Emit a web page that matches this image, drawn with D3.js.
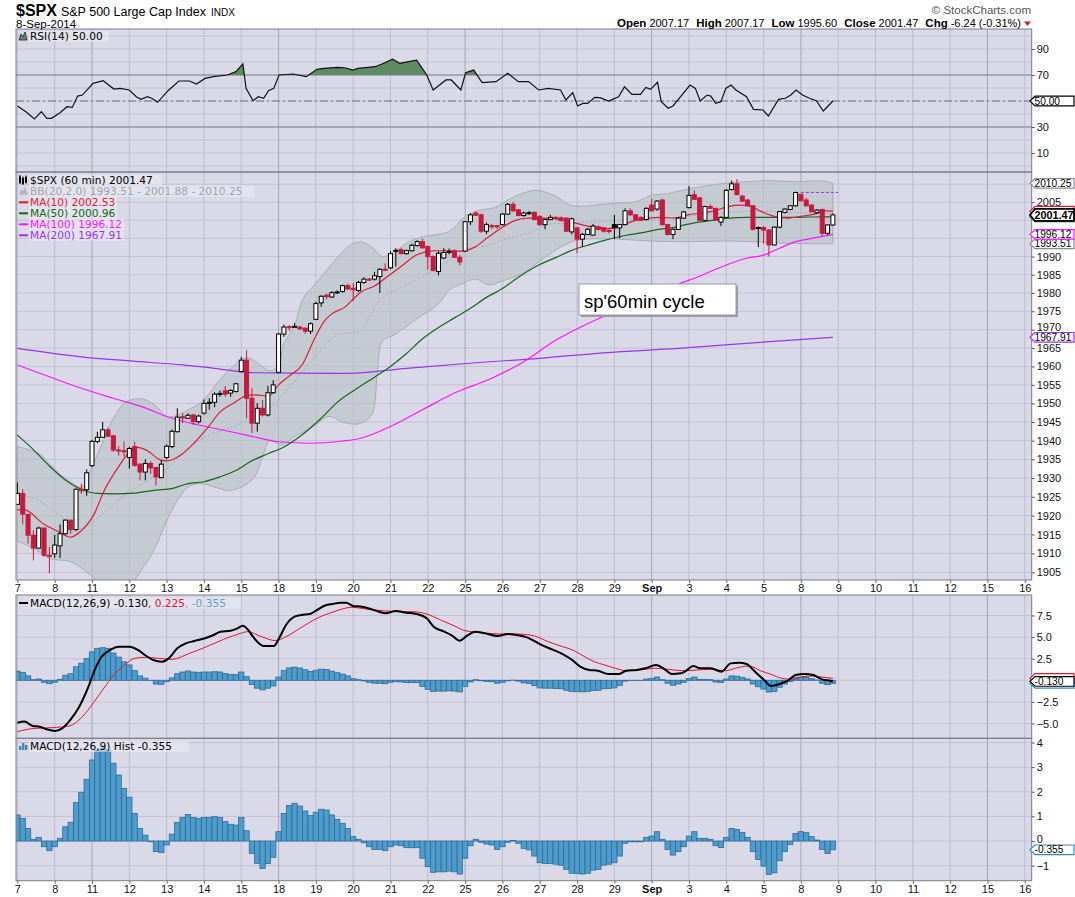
<!DOCTYPE html>
<html>
<head>
<meta charset="utf-8">
<script src="https://cdn.jsdelivr.net/npm/d3@7"></script>
<style>
  body { margin: 0; background: #fff; }
  svg text { font-family: "Liberation Sans", Arial, sans-serif; }
  .lg { font-family: "DejaVu Sans", Verdana, sans-serif; font-size: 10.6px; }
</style>
</head>
<body>
<svg id="chart" width="1075" height="897"></svg>
<script>
// day labels on the time axis, 7 hourly bars per trading day
const dayLabels = ["7","8","11","12","13","14","15","18","19","20","21","22","25","26","27","28","29","Sep","3","4","5","8","9","10","11","12","15","16"];
const weekStarts = [2, 7, 12, 17, 21, 26];
const barsPerDay = 7;

// hourly candles, 7 Aug - 8 Sep 2014
const opens = [1923.0,1925.9,1920.3,1914.8,1911.4,1916.7,1909.5,1909.9,1912.0,1915.2,1918.8,1916.3,1927.0,1926.9,
  1933.3,1939.8,1940.9,1942.9,1941.3,1937.5,1937.3,1935.5,1938.4,1933.7,1931.6,1933.9,1932.8,1930.1,
  1935.5,1938.4,1942.4,1946.4,1946.0,1946.9,1945.1,1947.4,1950.0,1950.3,1952.6,1953.4,1952.8,1953.2,
  1958.6,1961.7,1951.4,1944.7,1948.7,1946.9,1952.9,1958.4,1968.8,1970.8,1970.8,1970.7,1970.4,1969.6,
  1972.8,1977.3,1979.4,1978.9,1980.1,1980.4,1982.0,1981.3,1980.7,1982.9,1983.8,1983.8,1984.5,1986.5,
  1986.9,1991.6,1991.9,1990.8,1991.6,1993.0,1994.1,1992.8,1990.0,1985.9,1989.6,1991.3,1991.5,1989.8,
  1991.5,1999.6,2002.0,2001.5,1997.0,1998.5,1998.5,1998.8,2001.7,2004.4,2002.9,2001.3,2002.0,2002.2,
  2001.1,1998.8,2000.2,2000.8,2000.7,2000.6,1996.8,1997.9,1994.8,1996.1,1995.9,1998.2,1997.9,1997.2,
  1998.8,1997.9,1998.8,2002.6,2001.5,2000.8,2000.2,2004.2,2003.1,2005.6,1998.8,1996.1,1997.5,2000.6,
  2003.5,2007.1,2006.2,2000.0,2003.8,2003.3,1999.5,2000.8,2008.5,2010.1,2006.7,2005.6,2004.0,1997.9,
  1998.0,1997.3,1993.2,1998.1,2002.2,2003.0,2004.0,2007.2,2005.6,2004.2,2002.1,2003.0,1996.4,1998.7];
const highs = [1928.8,1927.1,1920.5,1916.1,1917.1,1916.9,1911.7,1914.9,1917.7,1919.0,1918.9,1927.2,1928.5,1932.3,
  1940.2,1942.4,1945.0,1943.5,1941.5,1938.5,1939.7,1938.4,1939.7,1933.9,1935.0,1934.5,1933.0,1934.8,
  1939.0,1943.0,1948.7,1947.4,1947.4,1947.2,1947.0,1951.1,1951.4,1953.0,1953.5,1954.7,1953.8,1955.6,
  1962.6,1964.4,1954.1,1950.1,1950.9,1954.7,1956.3,1969.1,1971.4,1971.2,1971.8,1971.0,1970.6,1972.0,
  1977.6,1979.4,1979.8,1980.5,1980.7,1982.3,1982.5,1982.7,1983.3,1984.3,1984.1,1985.8,1986.8,1988.1,
  1991.5,1992.3,1992.4,1991.9,1993.5,1994.5,1994.9,1993.0,1990.3,1991.4,1992.3,1992.2,1992.0,1990.4,
  1999.8,2002.0,2002.5,2001.8,1999.4,1999.0,1998.7,2002.0,2004.8,2005.1,2003.1,2002.4,2002.6,2002.4,
  2001.3,2000.4,2001.5,2001.1,2001.0,2000.8,2000.8,1998.1,1996.5,1997.9,1999.0,1998.6,1998.1,1997.5,
  2001.5,1999.0,2003.3,2003.3,2001.7,2001.1,2003.6,2006.0,2005.6,2006.0,1999.0,1997.8,2000.9,2002.6,
  2009.5,2008.3,2006.4,2004.0,2004.4,2003.5,2001.1,2008.7,2011.0,2011.4,2007.0,2005.8,2004.2,1998.3,
  1998.4,1997.6,1998.3,2002.6,2003.3,2004.2,2007.9,2007.2,2006.2,2004.4,2003.1,2003.0,1998.9,2001.9];
const lows = [1922.9,1917.7,1912.6,1908.1,1911.2,1909.2,1904.8,1908.8,1908.8,1915.0,1915.2,1915.9,1925.8,1925.3,
  1932.9,1939.3,1940.7,1941.0,1937.0,1936.0,1935.7,1932.5,1933.0,1929.4,1929.4,1931.0,1928.0,1930.0,
  1935.0,1938.0,1942.2,1944.7,1945.8,1944.2,1944.6,1947.0,1948.3,1949.0,1951.8,1951.8,1951.8,1953.0,
  1958.4,1946.0,1942.0,1942.4,1946.5,1946.5,1952.6,1958.2,1968.0,1969.6,1970.5,1969.8,1968.9,1968.8,
  1972.6,1976.2,1978.2,1978.7,1979.7,1980.1,1980.9,1977.8,1980.3,1982.5,1983.3,1983.4,1980.0,1986.0,
  1986.5,1987.2,1990.6,1990.5,1991.4,1992.8,1992.2,1986.4,1985.9,1984.8,1989.3,1990.6,1989.6,1987.5,
  1991.2,1998.7,2001.2,1996.5,1996.2,1997.5,1997.6,1998.5,2001.5,2002.4,2001.1,2001.0,2001.5,2000.0,
  1998.4,1997.5,2000.0,2000.2,1999.7,1996.8,1996.1,1990.9,1992.7,1995.9,1995.7,1997.2,1996.6,1996.3,
  1994.8,1995.0,1998.6,2001.3,2000.0,1999.9,2000.0,2002.4,2002.6,1998.5,1995.8,1994.8,1997.3,2000.4,
  2003.3,2005.6,1999.8,1999.7,2003.1,1999.8,1998.4,2000.6,2008.3,2006.9,2005.1,2003.8,1997.2,1992.6,
  1993.5,1990.0,1993.0,1997.8,2001.9,2002.8,2003.8,2005.2,2003.8,2002.1,2001.8,1995.6,1996.0,1998.5];
const closes = [1925.9,1920.4,1914.8,1911.4,1916.7,1909.5,1909.4,1912.2,1915.2,1918.8,1916.3,1927.0,1926.6,1931.4,
  1939.8,1940.9,1942.9,1941.2,1937.5,1937.2,1937.0,1937.9,1933.4,1931.6,1933.9,1932.7,1930.3,1933.7,
  1938.5,1942.5,1946.3,1946.1,1946.8,1945.1,1946.6,1950.0,1950.3,1952.5,1952.7,1952.5,1953.5,1955.3,
  1961.7,1951.4,1944.7,1948.7,1946.9,1952.9,1955.0,1968.8,1970.7,1970.6,1970.9,1970.2,1969.6,1971.6,
  1977.1,1979.1,1979.0,1980.1,1980.3,1982.0,1981.1,1980.9,1982.9,1983.8,1983.6,1984.7,1986.5,1986.3,
  1990.8,1991.7,1990.8,1991.6,1993.1,1994.1,1992.4,1990.0,1986.2,1990.9,1991.1,1991.4,1989.8,1988.5,
  1999.6,2001.5,2001.4,1997.0,1998.8,1998.3,1998.2,2001.7,2004.4,2002.6,2001.3,2002.0,2002.1,2000.2,
  1998.8,2000.2,2000.8,2000.5,1999.9,1997.0,2000.4,1994.8,1996.1,1997.5,1998.4,1997.5,1997.0,1996.9,
  1997.9,1998.8,2002.6,2001.5,2000.2,2000.0,2003.3,2002.6,2005.3,1998.8,1996.1,1997.5,2000.6,2002.3,
  2006.9,2005.8,2000.0,2003.8,2003.3,2000.0,2000.8,2008.3,2010.1,2007.1,2005.3,2004.0,1997.5,1998.0,
  1997.3,1993.2,1998.1,2002.4,2003.1,2004.0,2007.7,2005.4,2004.0,2002.4,2002.8,1996.4,1998.7,2001.47];
const prevClose = 2007.71;

// overlays as [bar, value]
const ma10 = [[0,1921.5],[1.3,1921.5],[5,1917.7],[7.5,1915.9],[10,1914.3],[11.9,1915.9],[14.4,1920.4],[16.3,1926.7],
  [19.4,1933.9],[21,1937.0],[22.5,1938.2],[24.4,1937.3],[26.9,1934.8],[28.1,1934.6],[30.6,1936.1],[33.1,1939.3],
  [35.6,1943.3],[38.1,1947.8],[40.6,1950.1],[43,1952.1],[44.6,1952.3],[47.1,1952.0],[49,1955.0],[50.9,1957.3],
  [53.4,1960.4],[55.9,1968.0],[57.7,1972.5],[59,1974.3],[61.5,1976.2],[62.7,1977.9],[64.6,1980.4],[67.1,1982.0],
  [69.6,1984.7],[72.1,1987.4],[74.6,1990.2],[76.4,1991.2],[78.3,1991.6],[80.8,1991.6],[83.3,1991.5],[85.8,1992.6],
  [88.3,1995.3],[91.4,1998.4],[93.3,1999.9],[95.8,2000.6],[98.9,2000.6],[102,2000.2],[104.6,1999.3],[106.4,1998.6],
  [108.3,1998.1],[110.8,1997.7],[113.3,1998.6],[115.8,1999.9],[118.3,2000.6],[120.8,2000.8],[123.3,2000.6],
  [125.8,2001.5],[128.3,2002.0],[130.8,2002.6],[133.3,2003.8],[135.8,2004.2],[137.7,2003.8],[139.6,2002.4],
  [142,2001.1],[144.6,2000.6],[147,2001.1],[149.6,2001.7],[151.4,2002.6],[153,2002.53]];
const ma50 = [[0,1941.5],[3,1937.6],[6,1933.2],[9,1929.5],[12,1927.0],[15,1925.9],[18,1925.8],[22,1926.0],[26,1926.8],
  [29,1927.2],[32,1928.5],[35,1929.0],[38,1930.3],[41,1932.0],[44,1934.6],[47,1936.5],[50,1938.3],[53,1941.1],
  [57,1946.0],[60,1950.3],[64,1954.3],[67,1957.1],[70,1960.0],[73,1963.5],[76,1967.5],[79,1970.6],[82,1973.2],
  [85,1975.8],[88,1978.8],[91,1981.2],[94,1984.3],[98,1987.8],[101,1989.7],[104,1991.7],[107,1993.1],[110,1994.4],
  [114,1995.8],[117,1996.5],[120,1997.4],[123,1998.0],[127,1999.3],[130,1999.9],[133,2000.5],[137,2000.8],
  [141,2000.8],[145,2000.8],[149,2000.9],[153,2000.96]];
const ma100 = [[0,1960.4],[6,1957.2],[12,1954.1],[18,1951.4],[24,1948.8],[28,1946.5],[34,1944.2],[38,1943.0],[43,1941.5],
  [49,1939.7],[55,1939.3],[61,1939.9],[64,1940.5],[70,1943.8],[76,1948.3],[82,1952.8],[89,1956.8],[95,1961.3],
  [101,1967.1],[107,1971.6],[114,1976.1],[120,1979.8],[124,1982.4],[128,1984.6],[131,1986.5],[137,1989.6],
  [140,1990.4],[143,1992.3],[146,1994.1],[149,1995.0],[153,1996.12]];
const ma200 = [[0,1964.9],[12,1962.6],[21,1961.5],[31,1960.4],[37,1959.5],[44,1958.3],[52,1958.2],[62,1958.1],
  [73,1959.5],[86,1961.0],[98,1962.2],[110,1963.7],[124,1964.9],[138,1966.4],[153,1967.91]];
const bbUpper = [[0,1938.4],[4,1936.6],[6,1933.9],[8,1931.0],[10,1929.0],[12,1927.5],[14,1933.0],[16,1939.5],[18,1946.0],
  [20.5,1950.5],[23.5,1951.2],[26,1949.3],[28,1946.5],[30,1946.8],[32,1948.3],[34.5,1950.3],[38,1956.4],[40.5,1960.0],
  [43,1962.4],[45,1961.0],[47.5,1958.8],[49,1960.5],[50,1966.2],[52,1971.0],[53.5,1978.2],[56.5,1983.5],[59.5,1988.8],
  [62.5,1993.2],[64.5,1994.0],[66.5,1992.6],[68.5,1990.0],[71,1991.6],[73.5,1994.1],[76,1995.4],[78.5,1996.0],
  [81,1996.9],[84,2001.0],[87,2002.9],[89.5,2003.5],[92.5,2006.0],[95.5,2007.8],[97.5,2008.3],[101,2006.7],
  [103.5,2004.3],[106,2003.9],[109,2004.3],[112,2004.7],[116,2005.1],[119,2006.9],[122,2007.4],[126,2008.7],
  [129.5,2009.6],[133,2010.3],[137,2010.7],[141,2011.0],[146,2010.7],[151,2010.9],[153,2010.25]];
const bbLower = [[0,1913.2],[3,1911.4],[6,1908.7],[10,1907.8],[13,1905.1],[14.5,1903.3],[16,1901.5],[18,1899.8],
  [20,1900.0],[21.5,1902.0],[23,1905.1],[25.5,1910.5],[28,1918.6],[30,1924.0],[32,1927.6],[34.5,1928.5],[37,1927.6],
  [39.5,1926.7],[42,1927.6],[44.5,1930.3],[46,1935.7],[47.5,1940.2],[49.5,1938.8],[52,1941.1],[55.5,1943.8],
  [58.5,1946.5],[61,1945.0],[64,1944.5],[66.5,1947.0],[67.5,1958.0],[68.5,1967.0],[70.5,1968.4],[75,1973.0],
  [79,1977.0],[81,1980.8],[83,1982.3],[86,1983.8],[88.5,1982.2],[91,1983.3],[94.5,1985.2],[98,1988.7],[102,1992.7],
  [105,1994.5],[111,1994.9],[115,1994.6],[120,1994.2],[127,1994.1],[133,1994.3],[139.5,1994.0],[146,1993.6],[153,1993.51]];
const bbMiddle = [[0,1925.8],[4,1924.0],[8,1920.0],[12,1916.5],[16,1920.5],[20,1925.3],[24,1929.0],[28,1932.5],[32,1938.0],
  [36,1941.5],[40,1943.5],[44,1946.0],[48,1949.5],[52,1956.0],[56,1963.0],[60,1968.5],[64,1969.5],[68,1978.0],
  [72,1981.5],[76,1984.5],[80,1988.0],[84,1992.0],[88,1993.0],[92,1995.0],[96,1996.5],[100,1999.0],[104,1999.3],
  [108,1999.5],[112,1999.8],[116,1999.8],[120,2000.3],[124,2000.8],[128,2001.5],[132,2002.0],[136,2002.4],
  [140,2002.5],[144,2002.2],[148,2002.0],[153,2001.88]];

// indicator panels
const rsi = [[0,46.2],[1.6,41.8],[3.2,36.2],[4.5,41.8],[5.5,36.7],[6.4,36.7],[8,41.0],[9.3,45.6],[10.3,45.1],[11.3,53.8],
  [12.2,54.6],[14.2,63.6],[16.1,65.6],[18.1,59.2],[19.3,59.7],[21,58.5],[22.3,53.3],[23.2,51.3],[24.4,53.3],[25.2,52.1],
  [26.3,49.0],[28.4,58.5],[30.3,65.4],[32.3,65.4],[33.6,63.1],[35.2,67.4],[36.8,68.7],[39.4,70.0],[41,72.6],[42.3,78.5],
  [42.9,59.7],[44.2,50.3],[45.2,53.3],[46.2,52.1],[47.1,57.9],[48.1,59.7],[49.1,70.0],[51.7,70.8],[54.2,68.7],
  [56.2,74.4],[57.5,75.1],[60.1,75.9],[61.4,75.6],[63,73.8],[63.9,75.1],[67.1,76.4],[68.4,78.5],[70.4,82.1],
  [71.7,79.0],[74.9,81.5],[76.8,70.0],[78,58.5],[80.4,66.2],[81.4,66.2],[83.2,58.5],[84.1,71.8],[85.6,73.8],
  [87.2,64.1],[89.8,64.9],[92,71.3],[94,64.9],[95.9,64.9],[97.8,58.5],[99.6,59.7],[101.9,58.5],[102.9,50.8],
  [104.2,56.4],[105.1,46.2],[106.1,48.2],[107,48.2],[108.3,52.8],[109.3,52.6],[110.9,50.0],[112.8,53.3],[113.9,61.0],
  [115.3,55.1],[116.9,55.1],[117.9,60.5],[118.8,59.0],[120.1,64.4],[120.8,49.5],[122.1,44.4],[123,46.2],[124,51.3],
  [126.2,62.3],[127.2,59.7],[128.1,50.0],[129.4,54.6],[130.1,53.8],[131,48.2],[132,49.5],[132.9,59.7],[133.9,62.3],
  [134.8,58.5],[136.8,53.3],[138.1,43.6],[139.9,43.1],[140.9,38.5],[142.8,51.3],[144.1,52.1],[145.1,54.6],
  [146.1,58.5],[147.3,54.6],[148.6,52.1],[149.9,50.3],[151.2,42.3],[153,50.0]];
const macdLine = [[0,-4.90],[1.3,-4.78],[2.9,-5.29],[4.2,-5.37],[5.5,-5.67],[7.1,-5.86],[8.4,-5.56],[10,-4.52],[11.6,-3.05],
  [13.2,-0.93],[14.5,1.19],[15.8,2.73],[17.4,3.51],[19,3.89],[21,3.89],[22.6,3.51],[23.9,2.93],[25.5,2.35],[27.1,2.16],
  [28.4,2.54],[30,3.70],[31.6,4.28],[33.2,4.55],[35.2,4.86],[36.8,5.24],[38.1,5.63],[40,5.74],[41.3,6.01],[42.3,6.32],
  [43.3,5.82],[44.2,5.05],[46.2,3.97],[48.1,3.97],[49.1,4.86],[50.4,6.40],[52,7.36],[53.3,7.56],[54.9,7.67],[56.2,8.13],
  [57.5,8.60],[59.1,8.83],[60.7,8.98],[61.7,8.98],[63,8.60],[64.6,8.52],[66.5,8.21],[67.8,7.94],[69.1,7.75],[71,8.02],
  [73,7.82],[74.9,7.67],[76.8,7.17],[78.1,6.20],[80.1,5.63],[81.4,5.24],[83,4.59],[84.3,5.13],[85.9,5.63],[87.8,5.43],
  [90.1,5.13],[92,5.36],[93.6,5.24],[95.6,4.97],[97.2,4.47],[98.3,4.09],[100.3,3.58],[102.3,3.04],[103.9,2.43],
  [105.6,1.58],[107.3,1.19],[108.9,1.11],[110.9,0.73],[112.9,0.73],[114.2,1.11],[116.2,1.19],[117.8,1.39],[119.8,1.77],
  [121.2,1.39],[122.8,0.73],[124.5,0.81],[125.5,1.11],[126.8,1.66],[128.1,1.39],[130.1,1.39],[132.1,1.00],[133.8,1.96],
  [135.4,2.04],[136.8,1.89],[138.4,1.00],[140.1,0.03],[141.4,-0.66],[143,-0.43],[144.7,0.03],[146,0.61],[147.7,0.73],
  [149.3,0.61],[151,0.11],[152.7,-0.08],[153,-0.13]];
const signalLine = [[0,-5.94],[3.2,-5.56],[6.5,-5.48],[9.7,-5.29],[12.2,-4.20],[14.2,-2.66],[16.2,-0.93],[18.1,0.61],
  [20.1,1.77],[22,2.54],[23.9,2.66],[26.5,2.54],[29,2.43],[32.3,3.12],[35.5,3.89],[38.7,4.74],[41.9,5.44],[43.2,5.63],
  [45.8,5.05],[48.4,4.59],[50.4,5.05],[53,6.01],[56.2,7.17],[59.4,7.94],[62.7,8.44],[65.9,8.21],[69.1,8.02],[71.7,7.94],
  [74.2,7.94],[76.8,7.67],[79.4,6.98],[82,6.29],[84,5.74],[87.2,5.51],[90.4,5.36],[93.6,5.36],[96.2,5.24],[97,5.13],
  [99.6,4.47],[102.3,3.89],[104.2,3.51],[106.2,2.81],[108.2,2.16],[110.2,1.77],[112.2,1.39],[114.2,1.11],[116.8,1.19],
  [119.5,1.39],[122.1,1.27],[124.8,1.11],[127.4,1.19],[130.1,1.27],[132.8,1.11],[135.4,1.50],[137.4,1.66],[139.4,1.11],
  [141.4,0.69],[143.4,0.23],[145.4,0.11],[147.4,0.42],[149.3,0.50],[151.3,0.34],[153,0.225]];
const histogram = [1.06,0.92,0.51,0.07,0.15,-0.23,-0.39,-0.23,0.11,0.58,0.76,1.56,1.98,2.51,
  3.29,3.70,3.77,3.70,3.16,2.68,2.14,1.78,1.12,0.51,0.24,-0.03,-0.43,-0.46,
  -0.16,0.28,0.76,0.96,1.08,0.96,0.92,0.96,0.96,0.99,0.96,0.79,0.68,0.65,
  0.96,0.42,-0.50,-0.91,-1.11,-0.91,-0.66,0.38,1.12,1.44,1.53,1.42,1.22,1.03,
  1.17,1.29,1.26,1.06,0.88,0.72,0.51,0.18,0.07,-0.07,-0.23,-0.34,-0.34,-0.39,
  -0.23,-0.16,-0.19,-0.27,-0.27,-0.27,-0.70,-1.04,-1.27,-1.25,-1.25,-1.22,-1.25,-1.34,
  -0.70,-0.19,0.07,-0.05,-0.12,-0.16,-0.34,-0.23,-0.05,0.02,-0.09,-0.30,-0.36,-0.61,
  -0.88,-0.91,-0.91,-0.94,-0.98,-1.15,-1.31,-1.31,-1.34,-1.31,-1.18,-1.15,-0.98,-0.94,
  -0.88,-0.61,-0.09,-0.03,-0.03,-0.03,0.15,0.20,0.38,0.07,-0.34,-0.57,-0.43,-0.23,
  0.20,0.38,0.11,0.11,0.07,-0.19,-0.26,0.15,0.51,0.47,0.35,0.15,-0.43,-0.75,
  -1.02,-1.36,-1.29,-0.80,-0.43,-0.14,0.31,0.38,0.34,0.18,0.04,-0.34,-0.50,-0.355];

// axis ticks and right-edge value tags
const rsiTicks = [10, 30, 70, 90];
const priceTicks = d3.range(1905, 2011, 5);
const macdTicks = [-5, -2.5, 2.5, 5, 7.5];
const histTicks = [-1, 0, 1, 2, 3, 4];
const priceTags = [2010.25, 2001.47, 1996.12, 1993.51];

const svg = d3.select("#chart");
const L = 16, R = 1031.7;
const RED = "#c8183e", BG = "#d9d9e8";

const x = d3.scaleLinear().domain([0, 190]).range([17.4, 17.4 + 5.33 * 190]);
const yR = d3.scaleLinear().domain([-4.6, 105.4]).range([172, 29]);
const yP = d3.scaleLog().domain([1902.99, 2013.39]).range([580, 172]);
const yM = d3.scaleLinear().domain([-6.71, 9.87]).range([738.3, 595]);
const yH = d3.scaleLinear().domain([-1.61, 4.17]).range([880.7, 738.3]);

const panels = [
  { id: "rsi", top: 29, bottom: 172, y: yR, grid: d3.range(0, 101, 10) },
  { id: "main", top: 172, bottom: 580, y: yP, grid: priceTicks },
  { id: "macd", top: 595, bottom: 738.3, y: yM, grid: d3.range(-5, 7.6, 2.5) },
  { id: "hist", top: 738.3, bottom: 880.7, y: yH, grid: d3.range(-1, 4.1, 1) }
];

const defs = svg.append("defs");
const layer = {};
panels.forEach(p => {
  defs.append("clipPath").attr("id", "clip-" + p.id)
    .append("rect").attr("x", L).attr("y", p.top).attr("width", R - L).attr("height", p.bottom - p.top);
  svg.append("rect").attr("x", L).attr("y", p.top).attr("width", R - L).attr("height", p.bottom - p.top).attr("fill", BG);
  const g = svg.append("g").attr("clip-path", "url(#clip-" + p.id + ")");
  // horizontal grid
  g.selectAll(".hg").data(p.grid).enter().append("line")
    .attr("x1", L).attr("x2", R)
    .attr("y1", d => p.y(d)).attr("y2", d => p.y(d))
    .attr("stroke", "#c2c2d4").attr("stroke-width", 1);
  // vertical day grid
  g.selectAll(".vg").data(dayLabels.map((d, i) => i)).enter().append("line")
    .attr("x1", d => x(d * barsPerDay)).attr("x2", d => x(d * barsPerDay))
    .attr("y1", p.top).attr("y2", p.bottom)
    .attr("stroke", d => weekStarts.includes(d) ? "#a4a4b8" : "#bdbdce").attr("stroke-width", 1);
  layer[p.id] = g;
});

// RSI panel
const rg = layer.rsi;
[30, 70].forEach(v => rg.append("line").attr("x1", L).attr("x2", R).attr("y1", yR(v)).attr("y2", yR(v))
  .attr("stroke", "#80808e").attr("stroke-width", 1.2));
rg.append("line").attr("x1", L).attr("x2", R).attr("y1", yR(50)).attr("y2", yR(50))
  .attr("stroke", "#707080").attr("stroke-dasharray", "8,3,2,3");
defs.append("clipPath").attr("id", "clip-ob").append("rect")
  .attr("x", L).attr("y", 29).attr("width", R - L).attr("height", yR(70) - 29);
rg.append("path").datum(rsi).attr("clip-path", "url(#clip-ob)")
  .attr("fill", "#5e8a64")
  .attr("d", d3.area().x(d => x(d[0])).y0(yR(70)).y1(d => yR(d[1])));
rg.append("path").datum(rsi).attr("fill", "none").attr("stroke", "#111").attr("stroke-width", 1.2)
  .attr("d", d3.line().x(d => x(d[0])).y(d => yR(d[1])));

// price panel
const mg = layer.main;
const smooth = d3.line().x(d => x(d[0])).y(d => yP(d[1])).curve(d3.curveMonotoneX);
const bandLine = d3.line().x(d => x(d[0])).y(d => yP(d[1])).curve(d3.curveCatmullRom.alpha(0.5));
const bandPath = bandLine(bbUpper) + "L" + bandLine(bbLower.slice().reverse()).slice(1) + "Z";
mg.append("path").attr("d", bandPath).attr("fill", "#b6c2c5").attr("fill-opacity", 0.62)
  .attr("stroke", "#a6aeb2").attr("stroke-width", 1);
mg.append("path").datum(bbMiddle).attr("d", smooth).attr("fill", "none")
  .attr("stroke", "#a8a8b4").attr("stroke-dasharray", "2,2");

const overlays = [
  { data: ma200, color: "#9a33ee" },
  { data: ma100, color: "#ff14ff" },
  { data: ma50, color: "#17651a" },
  { data: ma10, color: "#e01a34" }
];
overlays.forEach(o => mg.append("path").datum(o.data).attr("d", smooth)
  .attr("fill", "none").attr("stroke", o.color).attr("stroke-width", 1.2));

mg.append("line").attr("x1", x(147)).attr("x2", x(154)).attr("y1", yP(prevClose)).attr("y2", yP(prevClose))
  .attr("stroke", "#9a33ee").attr("stroke-dasharray", "3,2");

const candles = closes.map((c, i) => ({
  i, o: opens[i], h: highs[i], l: lows[i], c,
  col: (i === 0 || c >= closes[i - 1]) ? "#000" : RED
}));
const cg = mg.selectAll(".candle").data(candles).enter().append("g");
cg.append("line")
  .attr("x1", d => x(d.i)).attr("x2", d => x(d.i))
  .attr("y1", d => yP(d.h)).attr("y2", d => yP(d.l))
  .attr("stroke", d => d.col).attr("stroke-width", 1);
cg.append("rect")
  .attr("x", d => x(d.i) - 2).attr("width", 4)
  .attr("y", d => yP(Math.max(d.o, d.c)))
  .attr("height", d => Math.max(1, Math.abs(yP(d.o) - yP(d.c))))
  .attr("fill", d => d.c > d.o ? "#fff" : d.col)
  .attr("stroke", d => d.col).attr("stroke-width", 1);

// annotation
svg.append("rect").attr("x", 581).attr("y", 286).attr("width", 157).attr("height", 31).attr("fill", "#9a9aa4");
svg.append("rect").attr("x", 579).attr("y", 284).attr("width", 157).attr("height", 31)
  .attr("fill", "#fff").attr("stroke", "#9a9aa0");
svg.append("text").attr("x", 584).attr("y", 307.5).attr("font-size", 18.5).attr("fill", "#000").text("sp'60min cycle");

// MACD panel
const hw = 5.33;
layer.macd.selectAll(".mh").data(histogram).enter().append("rect")
  .attr("x", (d, i) => x(i) - hw / 2).attr("width", hw)
  .attr("y", d => yM(Math.max(0, d))).attr("height", d => Math.abs(yM(d) - yM(0)))
  .attr("fill", "#4e9ccb").attr("stroke", "#2d6c97").attr("stroke-width", 0.8);
const mline = d3.line().x(d => x(d[0])).y(d => yM(d[1])).curve(d3.curveMonotoneX);
layer.macd.append("path").datum(signalLine).attr("d", mline).attr("fill", "none").attr("stroke", "#e8102c").attr("stroke-width", 1);
layer.macd.append("path").datum(macdLine).attr("d", mline).attr("fill", "none").attr("stroke", "#000").attr("stroke-width", 2);

// histogram panel
layer.hist.selectAll(".hh").data(histogram).enter().append("rect")
  .attr("x", (d, i) => x(i) - hw / 2).attr("width", hw)
  .attr("y", d => yH(Math.max(0, d))).attr("height", d => Math.abs(yH(d) - yH(0)))
  .attr("fill", "#4e9ccb").attr("stroke", "#2d6c97").attr("stroke-width", 0.8);

// panel frames
panels.forEach(p => svg.append("rect").attr("x", L).attr("y", p.top).attr("width", R - L)
  .attr("height", p.bottom - p.top).attr("fill", "none").attr("stroke", "#7c7c88").attr("stroke-width", 1));

// right axes
function rightAxis(scale, ticks, fmt) {
  const g = svg.append("g").attr("transform", `translate(${R},0)`)
    .call(d3.axisRight(scale).tickValues(ticks).tickFormat(fmt).tickSize(3).tickPadding(2));
  g.select(".domain").remove();
  g.selectAll("line").attr("stroke", "#555");
  g.selectAll("text").attr("font-size", 11).attr("fill", "#111")
    .attr("font-family", "'Liberation Sans', Arial, sans-serif");
  return g;
}
rightAxis(yR, rsiTicks, d3.format("d"));
// price labels hidden under a value tag are left out, as on the original
const pax = rightAxis(yP, priceTicks.filter(t => priceTags.every(v => Math.abs(yP(t) - yP(v)) >= 7)), d3.format("d"));
// 1970 sits just above the MA(200) tag
pax.selectAll("text").filter(d => d === 1970).attr("dy", "0.1em");
rightAxis(yM, macdTicks, d3.format(".1f"));
const hax = rightAxis(yH, histTicks, d3.format("d"));
hax.selectAll("text").filter(d => d === 0).attr("dy", "0.1em");

// value tags on the right axis
function tag(yv, label, color, bold) {
  const h = bold ? 12 : 9.6, x0 = 1030, w = 44;
  const g = svg.append("g");
  g.append("path")
    .attr("d", `M${x0},${yv} L${x0 + 5},${yv - h / 2} L${x0 + w},${yv - h / 2} L${x0 + w},${yv + h / 2} L${x0 + 5},${yv + h / 2} Z`)
    .attr("fill", "#fff").attr("stroke", color).attr("stroke-width", bold ? 1.8 : 1.2);
  if (label) {
    g.append("text").attr("x", x0 + 4.5).attr("y", yv + 3.6).attr("font-size", bold ? 10.8 : 10.2)
      .attr("font-weight", bold ? "bold" : "normal").attr("fill", "#000").text(label);
  }
}
tag(yR(50), "50.00", "#000", false);
tag(yP(2010.25), "2010.25", "#8a8a94", false);
tag(yP(2002.53), null, "#e01a34", false);
tag(yP(2000.96), null, "#17651a", false);
tag(yP(2001.47), "2001.47", "#000", true);
tag(yP(1967.91), "1967.91", "#9a33ee", false);
tag(yP(1993.51), "1993.51", "#8a8a94", false);
tag(yP(1996.12), "1996.12", "#ff14ff", false);
tag(yM(0.225), null, "#e8102c", false);
tag(yM(-0.355), null, "#3f86bd", false);
tag(yM(-0.13), "-0.130", "#000", false);
tag(yH(-0.355), "-0.355", "#3f86bd", false);

// time axes
function timeAxis(yPos) {
  const g = svg.append("g").attr("transform", `translate(0,${yPos})`)
    .call(d3.axisBottom(x).tickValues(dayLabels.map((d, i) => i * barsPerDay))
      .tickFormat((d, i) => dayLabels[i]).tickSize(3).tickPadding(1.5));
  g.select(".domain").remove();
  g.selectAll("line").attr("stroke", "#666");
  g.selectAll("text").attr("font-size", 11).attr("fill", "#111")
    .attr("font-family", "'Liberation Sans', Arial, sans-serif")
    .attr("font-weight", (d, i) => dayLabels[i] === "Sep" ? "bold" : "normal");
}
timeAxis(580);
timeAxis(880.7);

// header
const head = svg.append("text").attr("x", 16).attr("y", 15.5);
head.append("tspan").attr("font-size", 16).attr("font-weight", "bold").text("$SPX");
head.append("tspan").attr("font-size", 12.5).attr("dx", 4).text("S&P 500 Large Cap Index");
head.append("tspan").attr("font-size", 10).attr("dx", 5).text("INDX");
svg.append("text").attr("x", 16).attr("y", 27.5).attr("font-size", 11.5).text("8-Sep-2014");
svg.append("text").attr("x", 1031).attr("y", 14).attr("text-anchor", "end").attr("font-size", 11.5)
  .attr("fill", "#555").text("\u00A9 StockCharts.com");
const quote = [["Open", "2007.17"], ["High", "2007.17"], ["Low", "1995.60"], ["Close", "2001.47"], ["Chg", "-6.24 (-0.31%)"]];
const qt = svg.append("text").attr("x", 1021).attr("y", 27).attr("text-anchor", "end").attr("font-size", 11);
quote.forEach((q, i) => {
  qt.append("tspan").attr("font-weight", "bold").attr("font-size", 11.5).attr("dx", i ? 7 : 0).text(q[0]);
  qt.append("tspan").attr("dx", 3).text(q[1]);
});
svg.append("path").attr("d", "M1024,21.5 L1031,21.5 L1027.5,26 Z").attr("fill", RED);

// legends
function legendRow(yb, parts, w) {
  svg.append("rect").attr("x", 29).attr("y", yb - 9).attr("width", w).attr("height", 11)
    .attr("fill", "#ececf4").attr("fill-opacity", 0.55);
  const t = svg.append("text").attr("class", "lg").attr("x", 30).attr("y", yb);
  parts.forEach(p => t.append("tspan").attr("fill", p[1]).text(p[0]));
}
// RSI legend
svg.append("path").attr("d", "M19,40 L21,34 L23,37 L25,32 L27,40 Z").attr("fill", "#5e8a64").attr("stroke", "#222").attr("stroke-width", 0.8);
legendRow(40, [["RSI(14) 50.00", "#000"]], 80);
// price legend
svg.append("g").call(g => {
  [[20, 176.5, 183], [23, 178, 184], [26, 177, 182.5]].forEach(c => {
    g.append("line").attr("x1", c[0]).attr("x2", c[0]).attr("y1", c[1] - 1.5).attr("y2", c[2] + 1).attr("stroke", "#000");
    g.append("rect").attr("x", c[0] - 1).attr("y", c[1]).attr("width", 2).attr("height", c[2] - c[1]).attr("fill", "#000");
  });
});
legendRow(183.5, [["$SPX (60 min) 2001.47", "#000"]], 133);
svg.append("path").attr("d", "M19,194.5 L21,189 L23,191 L25,187 L28,194.5 Z").attr("fill", "#b4b4bc");
legendRow(194.8, [["BB(20,2.0) 1993.51 - 2001.88 - 2010.25", "#a2a2aa"]], 225);
[["MA(10) 2002.53", "#e01a34", 205.8, 88], ["MA(50) 2000.96", "#17651a", 216.8, 88],
 ["MA(100) 1996.12", "#ff14ff", 227.8, 95], ["MA(200) 1967.91", "#9a33ee", 238.8, 95]].forEach(m => {
  svg.append("line").attr("x1", 19).attr("x2", 28).attr("y1", m[2] - 3.5).attr("y2", m[2] - 3.5)
    .attr("stroke", m[1]).attr("stroke-width", 2);
  legendRow(m[2], [[m[0], m[1]]], m[3]);
});
// MACD legend
svg.append("line").attr("x1", 19).attr("x2", 28).attr("y1", 603).attr("y2", 603).attr("stroke", "#000").attr("stroke-width", 2);
legendRow(606.5, [["MACD(12,26,9) -0.130", "#000"], [", 0.225", "#e8102c"], [", -0.355", "#5aa2d2"]], 212);
// histogram legend
[[19, 746], [22, 743], [25, 745]].forEach(b => svg.append("rect").attr("x", b[0]).attr("y", b[1])
  .attr("width", 2.4).attr("height", 750 - b[1]).attr("fill", "#3f86bd"));
legendRow(750, [["MACD(12,26,9) Hist -0.355", "#000"]], 160);
</script>
</body>
</html>
